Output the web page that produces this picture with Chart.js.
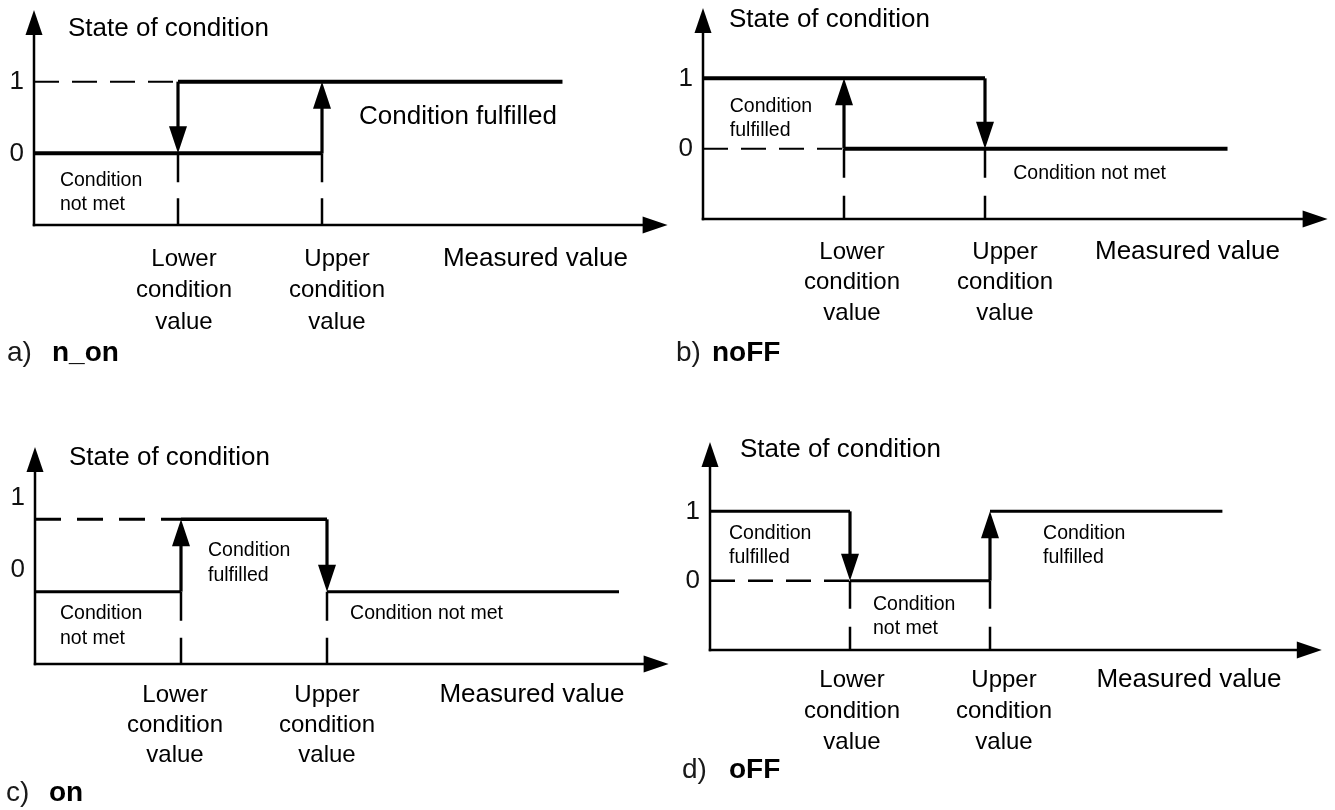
<!DOCTYPE html>
<html><head><meta charset="utf-8">
<script src="https://cdn.jsdelivr.net/npm/chart.js@4/dist/chart.umd.min.js"></script>
<style>
html,body{margin:0;padding:0;background:#fff;}
#wrap{position:relative;width:1335px;height:810px;overflow:hidden;background:#fff;}
#wrap canvas{position:absolute;left:0;top:0;}
</style></head><body>
<div id="wrap">
<canvas id="cA" width="1335" height="810"></canvas>
<canvas id="cB" width="1335" height="810"></canvas>
<canvas id="cC" width="1335" height="810"></canvas>
<canvas id="cD" width="1335" height="810"></canvas>
</div>
<script>
// ---------- data ----------
const conditionValues = [1, 2];                 // lower, upper condition value (measured-value axis)
const conditionLabels = [['Lower', 'condition', 'value'], ['Upper', 'condition', 'value']];
const stateTicks = [0, 1];                      // state of condition
const axisFloor = -1;                           // y-scale minimum (x-axis line)
const axisCeil = 2;                             // y-scale maximum (top of y-axis arrow)

// a) n_on
const nOnOffBranch = [{x: 0, y: 0}, {x: 2, y: 0}];
const nOnOnBranch  = [{x: 1, y: 1}, {x: 3.67, y: 1}];
const nOnGuide     = [{x: 0, y: 1}, {x: 1, y: 1}];
const nOnSwitches  = [{x: 1, from: 1, to: 0}, {x: 2, from: 0, to: 1}];
// b) noFF
const noffOnBranch  = [{x: 0, y: 1}, {x: 2, y: 1}];
const noffOffBranch = [{x: 1, y: 0}, {x: 3.72, y: 0}];
const noffGuide     = [{x: 0, y: 0}, {x: 1, y: 0}];
const noffSwitches  = [{x: 1, from: 0, to: 1}, {x: 2, from: 1, to: 0}];
// c) on
const onOffLeft  = [{x: 0, y: 0}, {x: 1, y: 0}];
const onOnMid    = [{x: 1, y: 1}, {x: 2, y: 1}];
const onOffRight = [{x: 2, y: 0}, {x: 4.0, y: 0}];
const onGuide    = [{x: 0, y: 1}, {x: 1, y: 1}];
const onSwitches = [{x: 1, from: 0, to: 1}, {x: 2, from: 1, to: 0}];
// d) oFF
const offOnLeft   = [{x: 0, y: 1}, {x: 1, y: 1}];
const offOffMid   = [{x: 1, y: 0}, {x: 2, y: 0}];
const offOnRight  = [{x: 2, y: 1}, {x: 3.66, y: 1}];
const offGuide    = [{x: 0, y: 0}, {x: 1, y: 0}];
const offSwitches = [{x: 1, from: 1, to: 0}, {x: 2, from: 0, to: 1}];

// ---------- layout ----------
const W = 1335, H = 810;
const FONT = '"Liberation Sans", Arial, Helvetica, sans-serif';

function txt(ctx, s, x, y, size, o) {
  o = o || {};
  ctx.save();
  ctx.font = (o.bold ? 'bold ' : '') + size + 'px ' + FONT;
  ctx.fillStyle = o.color || '#000';
  ctx.textAlign = o.align || 'left';
  ctx.textBaseline = 'middle';
  ctx.fillText(s, x, y);
  ctx.restore();
}

function lineDs(data, width, dash) {
  return {data: data, borderColor: '#000', backgroundColor: '#000', borderWidth: width,
    borderDash: dash || [], pointRadius: 0, pointHoverRadius: 0, fill: false,
    tension: 0, clip: false, borderCapStyle: 'butt', borderJoinStyle: 'miter'};
}

function diagramPlugin(L) {
  return {
    id: 'diagram_' + L.name,
    beforeDatasetsDraw(chart) {
      const ctx = chart.ctx, xs = chart.scales.x, ys = chart.scales.y;
      const X = v => xs.getPixelForValue(v), Y = v => ys.getPixelForValue(v);
      const x0 = X(0), yb = Y(axisFloor), yt = Y(axisCeil), xr = X(xs.max);
      ctx.save();
      ctx.strokeStyle = '#000'; ctx.fillStyle = '#000'; ctx.lineWidth = 2.5;
      ctx.beginPath(); ctx.moveTo(x0, yb + 1.25); ctx.lineTo(x0, yt + 20); ctx.stroke();
      ctx.beginPath(); ctx.moveTo(x0, yt); ctx.lineTo(x0 - 8.5, yt + 25); ctx.lineTo(x0 + 8.5, yt + 25); ctx.closePath(); ctx.fill();
      ctx.beginPath(); ctx.moveTo(x0 - 1.25, yb); ctx.lineTo(xr - 20, yb); ctx.stroke();
      ctx.beginPath(); ctx.moveTo(xr, yb); ctx.lineTo(xr - 25, yb - 8.5); ctx.lineTo(xr - 25, yb + 8.5); ctx.closePath(); ctx.fill();
      ctx.restore();
    },
    afterDatasetsDraw(chart) {
      const ctx = chart.ctx, xs = chart.scales.x, ys = chart.scales.y;
      const X = v => xs.getPixelForValue(v), Y = v => ys.getPixelForValue(v);
      const x0 = X(0), yb = Y(axisFloor);
      ctx.save();
      ctx.strokeStyle = '#000'; ctx.fillStyle = '#000';
      // switching arrows
      L.switches.forEach(s => {
        const px = X(s.x), p1 = Y(s.from), p2 = Y(s.to);
        const dir = p2 > p1 ? 1 : -1, head = 27, half = 9;
        ctx.lineWidth = 3.2;
        ctx.beginPath(); ctx.moveTo(px, p1); ctx.lineTo(px, p2 - dir * (head - 2)); ctx.stroke();
        ctx.beginPath(); ctx.moveTo(px, p2); ctx.lineTo(px - half, p2 - dir * head); ctx.lineTo(px + half, p2 - dir * head); ctx.closePath(); ctx.fill();
      });
      ctx.restore();
      // state tick labels
      stateTicks.forEach(v => txt(ctx, String(v), x0 - 10, Y(v) + L.tickShift, 26, {align: 'right', color: '#111'}));
      // condition value labels
      conditionLabels.forEach((lines, i) => lines.forEach((s, j) =>
        txt(ctx, s, X(conditionValues[i]) + L.labelDx[i], yb + L.below + j * L.gap, 24, {align: 'center'})));
      txt(ctx, 'Measured value', X(L.measuredX), yb + L.below, 26);
      // annotations
      L.notes.forEach(n => txt(ctx, n.t, X(n.x), Y(n.y), n.size));
      // panel title
      txt(ctx, L.letter, L.letterX, yb + L.titleDy, 28, {color: '#1a1a1a'});
      txt(ctx, L.name, L.nameX, yb + L.titleDy, 28, {bold: true});
    }
  };
}

function guideVerticals(dash) {
  return conditionValues.map(v => lineDs([{x: v, y: 0}, {x: v, y: axisFloor}], 2.5, dash));
}

function build(id, L, datasets) {
  const xEnd = L.ox + L.axisMax * L.ux;
  new Chart(document.getElementById(id), {
    type: 'line',
    data: {datasets: datasets},
    options: {
      responsive: false, animation: false, events: [],
      layout: {padding: {left: L.ox, top: L.top, right: W - xEnd, bottom: H - L.oy}},
      scales: {
        x: {type: 'linear', min: 0, max: L.axisMax, display: false},
        y: {type: 'linear', min: axisFloor, max: axisCeil, display: false}
      },
      plugins: {legend: {display: false}, tooltip: {enabled: false}, title: {display: false}}
    },
    plugins: [diagramPlugin(L)]
  });
}

const layoutA = {name: 'n_on', letter: 'a)', ox: 34, oy: 225, top: 10, ux: 144, axisMax: 4.4,
  tickShift: 0, below: 34, gap: 31.5, labelDx: [6, 15], measuredX: 2.84, titleDy: 128, letterX: 7, nameX: 52,
  switches: nOnSwitches,
  notes: [{t: 'State of condition', x: 0.236, y: 1.735, size: 26},
          {t: 'Condition fulfilled', x: 2.257, y: 0.506, size: 26},
          {t: 'Condition', x: 0.18, y: -0.386, size: 19.5},
          {t: 'not met', x: 0.18, y: -0.72, size: 19.5}]};
const layoutB = {name: 'noFF', letter: 'b)', ox: 703, oy: 219, top: 8, ux: 141, axisMax: 4.43,
  tickShift: 0, below: 33, gap: 30.5, labelDx: [8, 20], measuredX: 2.78, titleDy: 134, letterX: 676, nameX: 712,
  switches: noffSwitches,
  notes: [{t: 'State of condition', x: 0.184, y: 1.83, size: 26},
          {t: 'Condition', x: 0.19, y: 0.5925, size: 19.5},
          {t: 'fulfilled', x: 0.19, y: 0.251, size: 19.5},
          {t: 'Condition not met', x: 2.2, y: -0.36, size: 19.5}]};
const layoutC = {name: 'on', letter: 'c)', ox: 35, oy: 664, top: 447, ux: 146, axisMax: 4.34,
  tickShift: -22, below: 31, gap: 30, labelDx: [-6, 0], measuredX: 2.77, titleDy: 129, letterX: 6, nameX: 49,
  switches: onSwitches,
  notes: [{t: 'State of condition', x: 0.233, y: 1.848, size: 26},
          {t: 'Condition', x: 1.185, y: 0.562, size: 19.5},
          {t: 'fulfilled', x: 1.185, y: 0.217, size: 19.5},
          {t: 'Condition', x: 0.171, y: -0.309, size: 19.5},
          {t: 'not met', x: 0.171, y: -0.654, size: 19.5},
          {t: 'Condition not met', x: 2.158, y: -0.309, size: 19.5}]};
const layoutD = {name: 'oFF', letter: 'd)', ox: 710, oy: 650, top: 442, ux: 140, axisMax: 4.37,
  tickShift: 0, below: 30, gap: 31, labelDx: [2, 14], measuredX: 2.76, titleDy: 120, letterX: 682, nameX: 729,
  switches: offSwitches,
  notes: [{t: 'State of condition', x: 0.214, y: 1.885, size: 26},
          {t: 'Condition', x: 0.136, y: 0.673, size: 19.5},
          {t: 'fulfilled', x: 0.136, y: 0.327, size: 19.5},
          {t: 'Condition', x: 2.379, y: 0.673, size: 19.5},
          {t: 'fulfilled', x: 2.379, y: 0.327, size: 19.5},
          {t: 'Condition', x: 1.164, y: -0.351, size: 19.5},
          {t: 'not met', x: 1.164, y: -0.697, size: 19.5}]};

build('cA', layoutA, [
  lineDs(nOnOffBranch, 4), lineDs(nOnOnBranch, 4), lineDs(nOnGuide, 2, [25, 13])
].concat(guideVerticals([29, 16])));
build('cB', layoutB, [
  lineDs(noffOnBranch, 4), lineDs(noffOffBranch, 4), lineDs(noffGuide, 2, [25, 13])
].concat(guideVerticals([29, 18])));
build('cC', layoutC, [
  lineDs(onOffLeft, 3), lineDs(onOnMid, 3.5), lineDs(onOffRight, 3), lineDs(onGuide, 3, [26, 16])
].concat(guideVerticals([29, 17])));
build('cD', layoutD, [
  lineDs(offOnLeft, 3), lineDs(offOffMid, 3), lineDs(offOnRight, 3), lineDs(offGuide, 2.5, [25, 13])
].concat(guideVerticals([28, 18])));
</script>
</body></html>
